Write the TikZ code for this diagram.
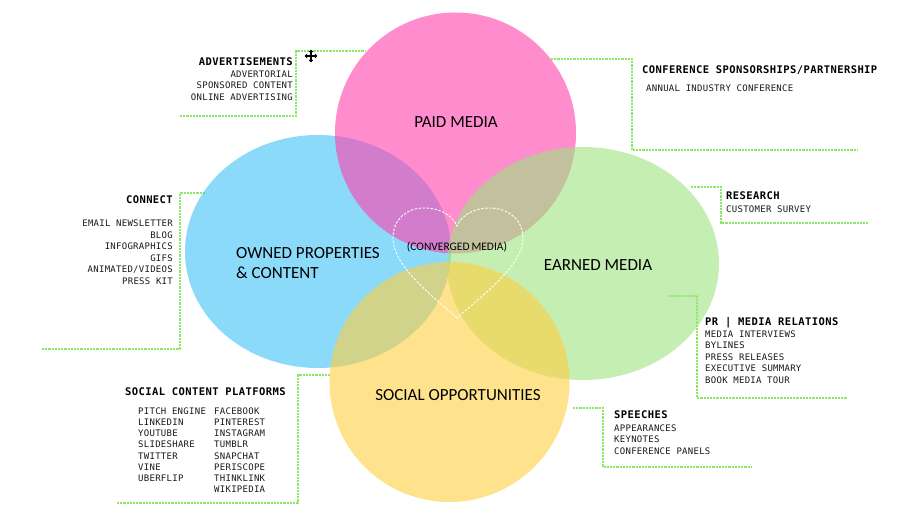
\documentclass[tikz,border=0pt]{standalone}
\usepackage{fontspec}
\usetikzlibrary{arrows.meta}
\setmainfont{Carlito}
\newfontfamily\monoreg[LetterSpace=3]{DejaVu Sans Mono}
\newfontfamily\monobold[LetterSpace=4]{DejaVu Sans Mono Bold}
\definecolor{pinkC}{RGB}{255,63,172}
\definecolor{blueC}{RGB}{63,193,247}
\definecolor{greenC}{RGB}{157,227,127}
\definecolor{yellowC}{RGB}{255,207,63}
\definecolor{leadC}{RGB}{140,232,100}
\tikzset{
  lead/.style={draw=leadC, line width=1.1pt, dash pattern=on 2.2pt off 1pt},
  venn/.style={fill opacity=0.6},
  head/.style={inner sep=0pt, font=\fontsize{10.5}{12}\monobold, text=black},
  body/.style={inner sep=0pt, font=\fontsize{9}{10}\monoreg, text=black!90},
  big/.style={inner sep=0pt, font=\fontsize{17}{20}\selectfont, text=black},
}
\begin{document}
\begin{tikzpicture}[x=1pt,y=-1pt]
\useasboundingbox (0,0) rectangle (917,526);
% leader lines
\draw[lead] (180,116) -- (296,116) -- (296,51) -- (366,51);
\draw[lead] (551,59) -- (632,59) -- (632,150) -- (858,150);
\draw[lead] (42,349) -- (180,349) -- (180,193) -- (206,193);
\draw[lead] (691,187) -- (721,187) -- (721,223) -- (868,223);
\draw[lead] (668,296) -- (697,296) -- (697,398) -- (847,398);
\draw[lead] (117,503) -- (298,503) -- (298,375) -- (330,375);
\draw[lead] (573,408) -- (603,408) -- (603,467) -- (752,467);
% circles
\fill[blueC, venn] (318,251.5) ellipse [x radius=133, y radius=116.5];
\fill[pinkC, venn] (455.5,133) circle [radius=120.5];
\fill[greenC, venn] (583,263.5) ellipse [x radius=136, y radius=116.5];
\fill[yellowC, venn] (449.5,382) circle [radius=120];
% heart
\draw[white, line width=0.9pt, dash pattern=on 2.5pt off 1.5pt]
  (457,318) .. controls (425,290) and (393,264) .. (393,238)
  .. controls (393,219) and (407,208) .. (424,208)
  .. controls (440,208) and (452,215) .. (457,226)
  .. controls (462,215) and (474,208) .. (490,208)
  .. controls (507,208) and (523,219) .. (523,238)
  .. controls (523,264) and (489,290) .. (457,318);
\node[inner sep=0pt, font=\fontsize{11.5}{13}\selectfont, anchor=base] (conv) at (457,251) {(CONVERGED\,MEDIA)};
% main labels
\node[big, anchor=base] (paid) at (456,128) {PAID MEDIA};
\node[big, anchor=base west] (owned1) at (236,259) {OWNED PROPERTIES};
\node[big, anchor=base west] (owned2) at (236,278.5) {\&\ CONTENT};
\node[big, anchor=base] (earned) at (598,271) {EARNED MEDIA};
\node[big, anchor=base] (social) at (458,400) {SOCIAL OPPORTUNITIES};
% advertisements
\node[head, anchor=base east] (advh) at (293,65.5) {ADVERTISEMENTS};
\foreach \t [count=\i] in {ADVERTORIAL,SPONSORED CONTENT,ONLINE ADVERTISING}
  \node[body, anchor=base east] (adv\i) at (293,{65.5+\i*11.7}) {\t};
% conference
\node[head, anchor=base west] (confh) at (642,74) {CONFERENCE SPONSORSHIPS/PARTNERSHIP};
\node[body, anchor=base west] (conf1) at (646,91.5) {ANNUAL INDUSTRY CONFERENCE};
% connect
\node[head, anchor=base east] (conh) at (173,204) {CONNECT};
\foreach \t [count=\i] in {EMAIL NEWSLETTER,BLOG,INFOGRAPHICS,GIFS,ANIMATED/VIDEOS,PRESS KIT}
  \node[body, anchor=base east] (con\i) at (173,{215.6+\i*11.4}) {\t};
% research
\node[head, anchor=base west] (resh) at (726,200) {RESEARCH};
\node[body, anchor=base west] (res1) at (726,213) {CUSTOMER SURVEY};
% PR
\node[head, anchor=base west] (prh) at (705,325) {PR | MEDIA RELATIONS};
\foreach \t [count=\i] in {MEDIA INTERVIEWS,BYLINES,PRESS RELEASES,EXECUTIVE SUMMARY,BOOK MEDIA TOUR}
  \node[body, anchor=base west] (pr\i) at (705,{325.5+\i*11.5}) {\t};
% social content platforms
\node[head, anchor=base west] (scph) at (125,395) {SOCIAL CONTENT PLATFORMS};
\foreach \t [count=\i] in {PITCH ENGINE,LINKEDIN,YOUTUBE,SLIDESHARE,TWITTER,VINE,UBERFLIP}
  \node[body, anchor=base west] (scpa\i) at (138,{402.8+\i*11.25}) {\t};
\foreach \t [count=\i] in {FACEBOOK,PINTEREST,INSTAGRAM,TUMBLR,SNAPCHAT,PERISCOPE,THINKLINK,WIKIPEDIA}
  \node[body, anchor=base west] (scpb\i) at (214,{402.8+\i*11.25}) {\t};
% speeches
\node[head, anchor=base west] (sph) at (614,418) {SPEECHES};
\foreach \t [count=\i] in {APPEARANCES,KEYNOTES,CONFERENCE PANELS}
  \node[body, anchor=base west] (sp\i) at (614,{419.5+\i*11.5}) {\t};
% move cursor
\coordinate (cur) at (311,56);
\draw[line width=1.3pt, {Triangle[length=2.6pt,width=4.5pt]}-{Triangle[length=2.6pt,width=4.5pt]}] ([xshift=-6.5pt]cur) -- ([xshift=6.5pt]cur);
\draw[line width=1.3pt, {Triangle[length=2.6pt,width=4.5pt]}-{Triangle[length=2.6pt,width=4.5pt]}] ([yshift=-6.5pt]cur) -- ([yshift=6.5pt]cur);
\end{tikzpicture}
\end{document}
